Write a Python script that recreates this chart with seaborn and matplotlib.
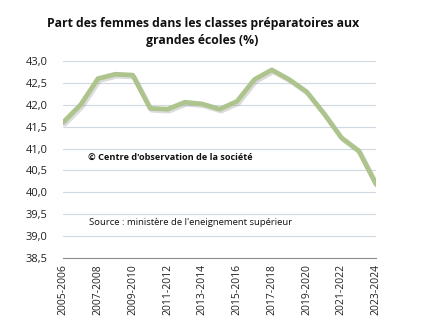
import matplotlib
matplotlib.use("Agg")
import matplotlib.pyplot as plt
import matplotlib.patheffects as pe
import seaborn as sns
import pandas as pd

years = ["2005-2006", "2006-2007", "2007-2008", "2008-2009", "2009-2010",
         "2010-2011", "2011-2012", "2012-2013", "2013-2014", "2014-2015",
         "2015-2016", "2016-2017", "2017-2018", "2018-2019", "2019-2020",
         "2020-2021", "2021-2022", "2022-2023", "2023-2024"]
share = [41.6, 42.0, 42.6, 42.7, 42.68, 41.92, 41.9, 42.06, 42.02, 41.9,
         42.08, 42.58, 42.8, 42.58, 42.3, 41.8, 41.25, 40.95, 40.18]
yticks = [38.5, 39.0, 39.5, 40.0, 40.5, 41.0, 41.5, 42.0, 42.5, 43.0]

df = pd.DataFrame({"pos": range(len(years)), "share": share})

sns.set_style("white")
plt.rcParams["font.family"] = ["Open Sans", "DejaVu Sans"]

fig = plt.figure(figsize=(4.24, 3.34), dpi=100)
ax = fig.add_axes([0.149, 0.228, 0.738, 0.589])

sns.lineplot(data=df, x="pos", y="share", ax=ax, color="#aec48d", lw=3.4,
             path_effects=[pe.SimpleLineShadow(offset=(1.2, -1.4), shadow_color="#808080",
                                               alpha=0.28),
                           pe.Normal()])

ax.set_xlim(0, len(years) - 1)
ax.set_ylim(38.5, 43.0)
ax.set_yticks(yticks)
ax.set_yticklabels([f"{v:.1f}".replace(".", ",") for v in yticks], fontsize=8, color="#222222")
ax.yaxis.grid(True, color="#cfd9e4", lw=0.8)
ax.set_axisbelow(True)

tick_pos = list(range(0, len(years), 2))
ax.set_xticks(tick_pos)
ax.set_xticklabels([years[i] for i in tick_pos], rotation=90, fontsize=7.5, color="#222222")
ax.tick_params(axis="x", direction="inout", length=5, color="#8c8c8c", width=0.8, pad=2)
ax.tick_params(axis="y", length=0, pad=11)

for s in ["top", "right", "left"]:
    ax.spines[s].set_visible(False)
ax.spines["bottom"].set_color("#8c8c8c")
ax.spines["bottom"].set_linewidth(0.8)
ax.set_xlabel("")
ax.set_ylabel("")

ax.text(1.4, 40.8, "\u00a9 Centre d'observation de la soci\u00e9t\u00e9", fontsize=6.6,
        fontweight="bold", color="#111111", va="center")
ax.text(1.5, 39.3, "Source : minist\u00e8re de l'eneignement sup\u00e9rieur", fontsize=6.8,
        color="#111111", va="center")

fig.text(0.478, 0.905, "Part des femmes dans les classes pr\u00e9paratoires aux\ngrandes \u00e9coles (%)",
         ha="center", va="center", fontsize=8.8, fontweight="bold", color="#111111",
         linespacing=1.4)

fig.savefig("out.png", dpi=100, facecolor="white")
